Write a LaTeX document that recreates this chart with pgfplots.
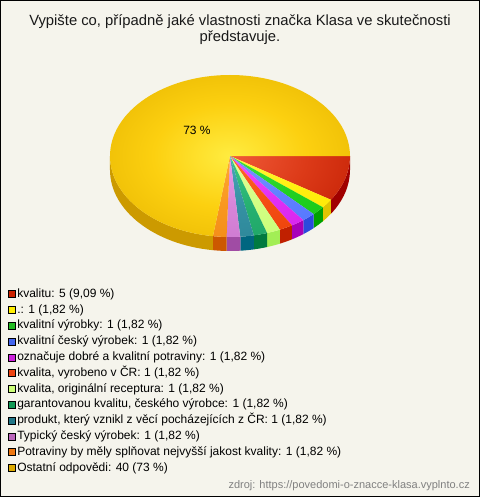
\documentclass[border=0pt]{standalone}
\usepackage{pgfplots}
\pgfplotsset{compat=1.18}
\usepackage{pgfplotstable}
\usepackage{fontspec}
\setmainfont{Liberation Sans}

\definecolor{bgc}{HTML}{F5F4EC}
% top inner / top mid / top outer / side / legend colours
\definecolor{ti0}{HTML}{F05A38}\definecolor{tm0}{HTML}{DC3A18}\definecolor{to0}{HTML}{BE1A00}\definecolor{sd0}{HTML}{A00000}\definecolor{lg0}{HTML}{CC2200}
\definecolor{ti1}{HTML}{FFF840}\definecolor{tm1}{HTML}{FFF010}\definecolor{to1}{HTML}{FFE400}\definecolor{sd1}{HTML}{E0C400}\definecolor{lg1}{HTML}{FFEE00}
\definecolor{ti2}{HTML}{40E040}\definecolor{tm2}{HTML}{22D022}\definecolor{to2}{HTML}{11C411}\definecolor{sd2}{HTML}{00A000}\definecolor{lg2}{HTML}{22BB22}
\definecolor{ti3}{HTML}{7A98FF}\definecolor{tm3}{HTML}{6080FF}\definecolor{to3}{HTML}{4E72FF}\definecolor{sd3}{HTML}{2C4ADD}\definecolor{lg3}{HTML}{4466EE}
\definecolor{ti4}{HTML}{F050FF}\definecolor{tm4}{HTML}{E030F4}\definecolor{to4}{HTML}{D01CE8}\definecolor{sd4}{HTML}{A800B8}\definecolor{lg4}{HTML}{CC22DD}
\definecolor{ti5}{HTML}{FF6828}\definecolor{tm5}{HTML}{F44E14}\definecolor{to5}{HTML}{E83C06}\definecolor{sd5}{HTML}{C02000}\definecolor{lg5}{HTML}{EE4411}
\definecolor{ti6}{HTML}{E2FF98}\definecolor{tm6}{HTML}{D2FF84}\definecolor{to6}{HTML}{C4FF70}\definecolor{sd6}{HTML}{A2EE55}\definecolor{lg6}{HTML}{CCFF77}
\definecolor{ti7}{HTML}{38C884}\definecolor{tm7}{HTML}{26B070}\definecolor{to7}{HTML}{1AA062}\definecolor{sd7}{HTML}{007A40}\definecolor{lg7}{HTML}{119955}
\definecolor{ti8}{HTML}{48A8B8}\definecolor{tm8}{HTML}{3490A2}\definecolor{to8}{HTML}{2A8294}\definecolor{sd8}{HTML}{006680}\definecolor{lg8}{HTML}{227788}
\definecolor{ti9}{HTML}{E89CE8}\definecolor{tm9}{HTML}{D684D8}\definecolor{to9}{HTML}{C874CC}\definecolor{sd9}{HTML}{A04CA4}\definecolor{lg9}{HTML}{BB66BB}
\definecolor{ti10}{HTML}{FFAA30}\definecolor{tm10}{HTML}{F89620}\definecolor{to10}{HTML}{F08612}\definecolor{sd10}{HTML}{CC5800}\definecolor{lg10}{HTML}{EE7711}
\definecolor{ti11}{HTML}{FFEC40}\definecolor{tm11}{HTML}{FCD010}\definecolor{to11}{HTML}{E6B400}\definecolor{sd11}{HTML}{CC9A00}\definecolor{lg11}{HTML}{DDAA00}

\pgfplotsinvokeforeach{0,...,11}{%
  \pgfdeclareradialshading{pie#1}{\pgfpointorigin}{color(0bp)=(ti#1); color(16bp)=(tm#1); color(35bp)=(to#1); color(80bp)=(to#1)}%
}

\pgfplotstableread{
value
5
1
1
1
1
1
1
1
1
1
1
40
}\piedata

\def\total{0}
\pgfplotsforeachungrouped \i in {0,...,11}{%
  \pgfplotstablegetelem{\i}{value}\of\piedata
  \pgfmathsetmacro\total{\total+\pgfplotsretval}%
}
\def\acc{0}
\pgfplotsforeachungrouped \i in {0,...,11}{%
  \pgfplotstablegetelem{\i}{value}\of\piedata
  \pgfmathsetmacro\sa{\acc/\total*360}%
  \pgfmathsetmacro\acc{\acc+\pgfplotsretval}%
  \pgfmathsetmacro\sb{\acc/\total*360}%
  \pgfmathsetmacro\fa{min(\sa,180)}%
  \pgfmathsetmacro\fb{min(\sb,180)}%
  \expandafter\xdef\csname sa\i\endcsname{\sa}%
  \expandafter\xdef\csname sb\i\endcsname{\sb}%
  \expandafter\xdef\csname fa\i\endcsname{\fa}%
  \expandafter\xdef\csname fb\i\endcsname{\fb}%
}
\def\cx{230}\def\cy{156}\def\rx{120}\def\ry{81}

\begin{document}
\begin{tikzpicture}
\begin{axis}[
  scale only axis, width=480bp, height=497bp,
  xmin=0, xmax=480, ymin=0, ymax=497, y dir=reverse,
  hide axis, clip=false,
  legend image code/.code={\draw[#1,draw=black,line width=0.6bp] (0bp,-3.5bp) rectangle (7bp,3.5bp);},
  legend style={at={(axis description cs:0.0167,0.4245)}, anchor=north west, draw=none, fill=none,
    inner sep=0pt, row sep=0pt, font=\fontsize{12bp}{14bp}\selectfont,
    nodes={inner ysep=0pt, inner xsep=1.5bp, text height=11bp, text depth=4.8bp}},
  legend cell align=left,
]
\fill[bgc] (axis cs:0,0) rectangle (axis cs:480,497);
\draw[black, line width=1bp] (axis cs:0.5,0.5) rectangle (axis cs:479.5,496.5);

% sides
\pgfplotsinvokeforeach{0,...,11}{
  \fill[sd#1] (axis cs:{\cx+\rx*cos(\csname fa#1\endcsname)},{\cy+\ry*sin(\csname fa#1\endcsname)})
    arc[start angle={-\csname fa#1\endcsname}, end angle={-\csname fb#1\endcsname}, x radius=120bp, y radius=81bp]
    -- ++(0bp,-14bp)
    arc[start angle={-\csname fb#1\endcsname}, end angle={-\csname fa#1\endcsname}, x radius=120bp, y radius=81bp]
    -- cycle;
}
% tops
\pgfplotsinvokeforeach{0,...,11}{
  \begin{scope}
  \clip (axis cs:\cx,\cy) -- (axis cs:{\cx+\rx*cos(\csname sa#1\endcsname)},{\cy+\ry*sin(\csname sa#1\endcsname)})
    arc[start angle={-\csname sa#1\endcsname}, end angle={-\csname sb#1\endcsname}, x radius=120bp, y radius=81bp] -- cycle;
  \shade[shading=pie#1] (axis cs:\cx,\cy) ellipse [x radius=120bp, y radius=81bp];
  \end{scope}
}

\node[align=center, font=\fontsize{14.8bp}{16bp}\selectfont, text=black!90] at (axis cs:240,30)
  {Vypište co, případně jaké vlastnosti značka Klasa ve skutečnosti\\představuje.};
\node[font=\fontsize{12bp}{14bp}\selectfont] at (axis cs:197,130) {73 \%};
\node[anchor=base east, font=\fontsize{11bp}{13bp}\selectfont, text=black!50, inner sep=0pt] at (axis cs:470,488)
  {zdroj: https://povedomi-o-znacce-klasa.vyplnto.cz};

\addlegendimage{fill=lg0}\addlegendentry{kvalitu: 5 (9,09 \%)}
\addlegendimage{fill=lg1}\addlegendentry{.: 1 (1,82 \%)}
\addlegendimage{fill=lg2}\addlegendentry{kvalitní výrobky: 1 (1,82 \%)}
\addlegendimage{fill=lg3}\addlegendentry{kvalitní český výrobek: 1 (1,82 \%)}
\addlegendimage{fill=lg4}\addlegendentry{označuje dobré a kvalitní potraviny: 1 (1,82 \%)}
\addlegendimage{fill=lg5}\addlegendentry{kvalita, vyrobeno v ČR: 1 (1,82 \%)}
\addlegendimage{fill=lg6}\addlegendentry{kvalita, originální receptura: 1 (1,82 \%)}
\addlegendimage{fill=lg7}\addlegendentry{garantovanou kvalitu, českého výrobce: 1 (1,82 \%)}
\addlegendimage{fill=lg8}\addlegendentry{produkt, který vznikl z věcí pocházejících z ČR: 1 (1,82 \%)}
\addlegendimage{fill=lg9}\addlegendentry{Typický český výrobek: 1 (1,82 \%)}
\addlegendimage{fill=lg10}\addlegendentry{Potraviny by měly splňovat nejvyšší jakost kvality: 1 (1,82 \%)}
\addlegendimage{fill=lg11}\addlegendentry{Ostatní odpovědi: 40 (73 \%)}
\end{axis}
\end{tikzpicture}
\end{document}
